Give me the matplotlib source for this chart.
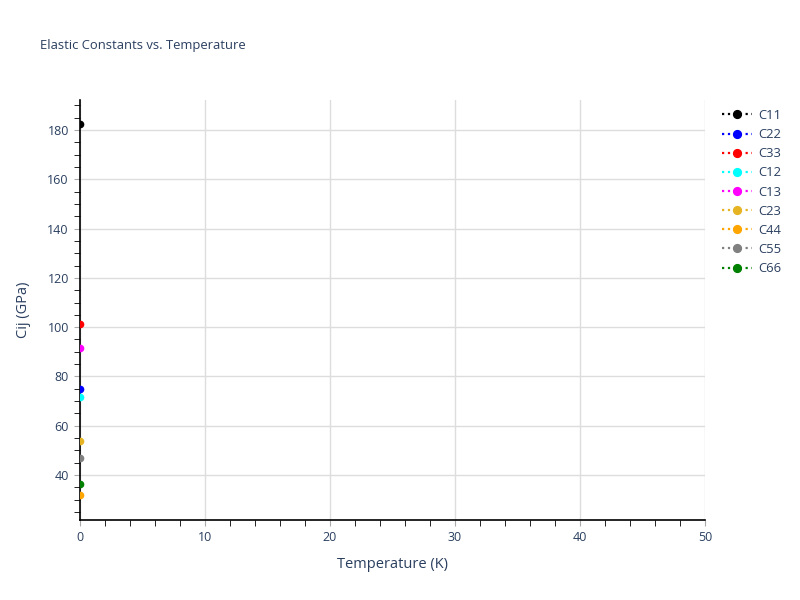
import matplotlib
matplotlib.use("Agg")
import matplotlib.pyplot as plt
from matplotlib.ticker import MultipleLocator

plt.rcParams['font.family'] = ['Open Sans', 'DejaVu Sans']

# values (single point at T = 0 K)
names = ['C11', 'C22', 'C33', 'C12', 'C13', 'C23', 'C44', 'C55', 'C66']
colors = ['black', 'blue', 'red', 'cyan', 'magenta', '#e6b422', 'orange', 'gray', 'green']
temperature = [0.0]
cij = [182.5, 74.8, 101.1, 71.6, 91.6, 53.9, 31.9, 46.7, 36.3]

txt = '#2a3f5f'

fig = plt.figure(figsize=(8, 6), dpi=100)
ax = fig.add_axes([0.1, 0.1333, 0.78125, 0.7])

for name, c, v in zip(names, colors, cij):
    ax.plot(temperature, [v], linestyle=':', linewidth=1.6, color=c,
            marker='o', markersize=4.5, label=name, zorder=3)

ax.set_xlim(0, 50)
ax.set_ylim(21.7, 192.2)
ax.xaxis.set_major_locator(MultipleLocator(10))
ax.xaxis.set_minor_locator(MultipleLocator(2))
ax.yaxis.set_major_locator(MultipleLocator(20))
ax.yaxis.set_minor_locator(MultipleLocator(5))

ax.grid(True, which='major', color='#dddddd', linewidth=1)
ax.set_axisbelow(True)
for s in ['top', 'right']:
    ax.spines[s].set_visible(False)
for s in ['left', 'bottom']:
    ax.spines[s].set_color('black')
    ax.spines[s].set_linewidth(1.2)

ax.tick_params(which='major', direction='out', length=4, color='#aaaaaa',
               labelsize=9, labelcolor=txt, pad=4)
ax.tick_params(which='minor', direction='out', length=4, color='black')

ax.set_xlabel('Temperature (K)', fontsize=10.5, color=txt, labelpad=9)
ax.set_ylabel('Cij (GPa)', fontsize=10.5, color=txt, labelpad=12)

fig.text(0.05, 0.925, 'Elastic Constants vs. Temperature', fontsize=9.4,
         color=txt, va='center', ha='left')

leg = fig.legend(loc='upper left', bbox_to_anchor=(0.896, 0.827), frameon=False,
                 fontsize=9.4, labelcolor=txt, handlelength=2.3, markerscale=1.25,
                 labelspacing=0.47, handletextpad=0.5, borderaxespad=0)

fig.savefig('out.png', dpi=100)
